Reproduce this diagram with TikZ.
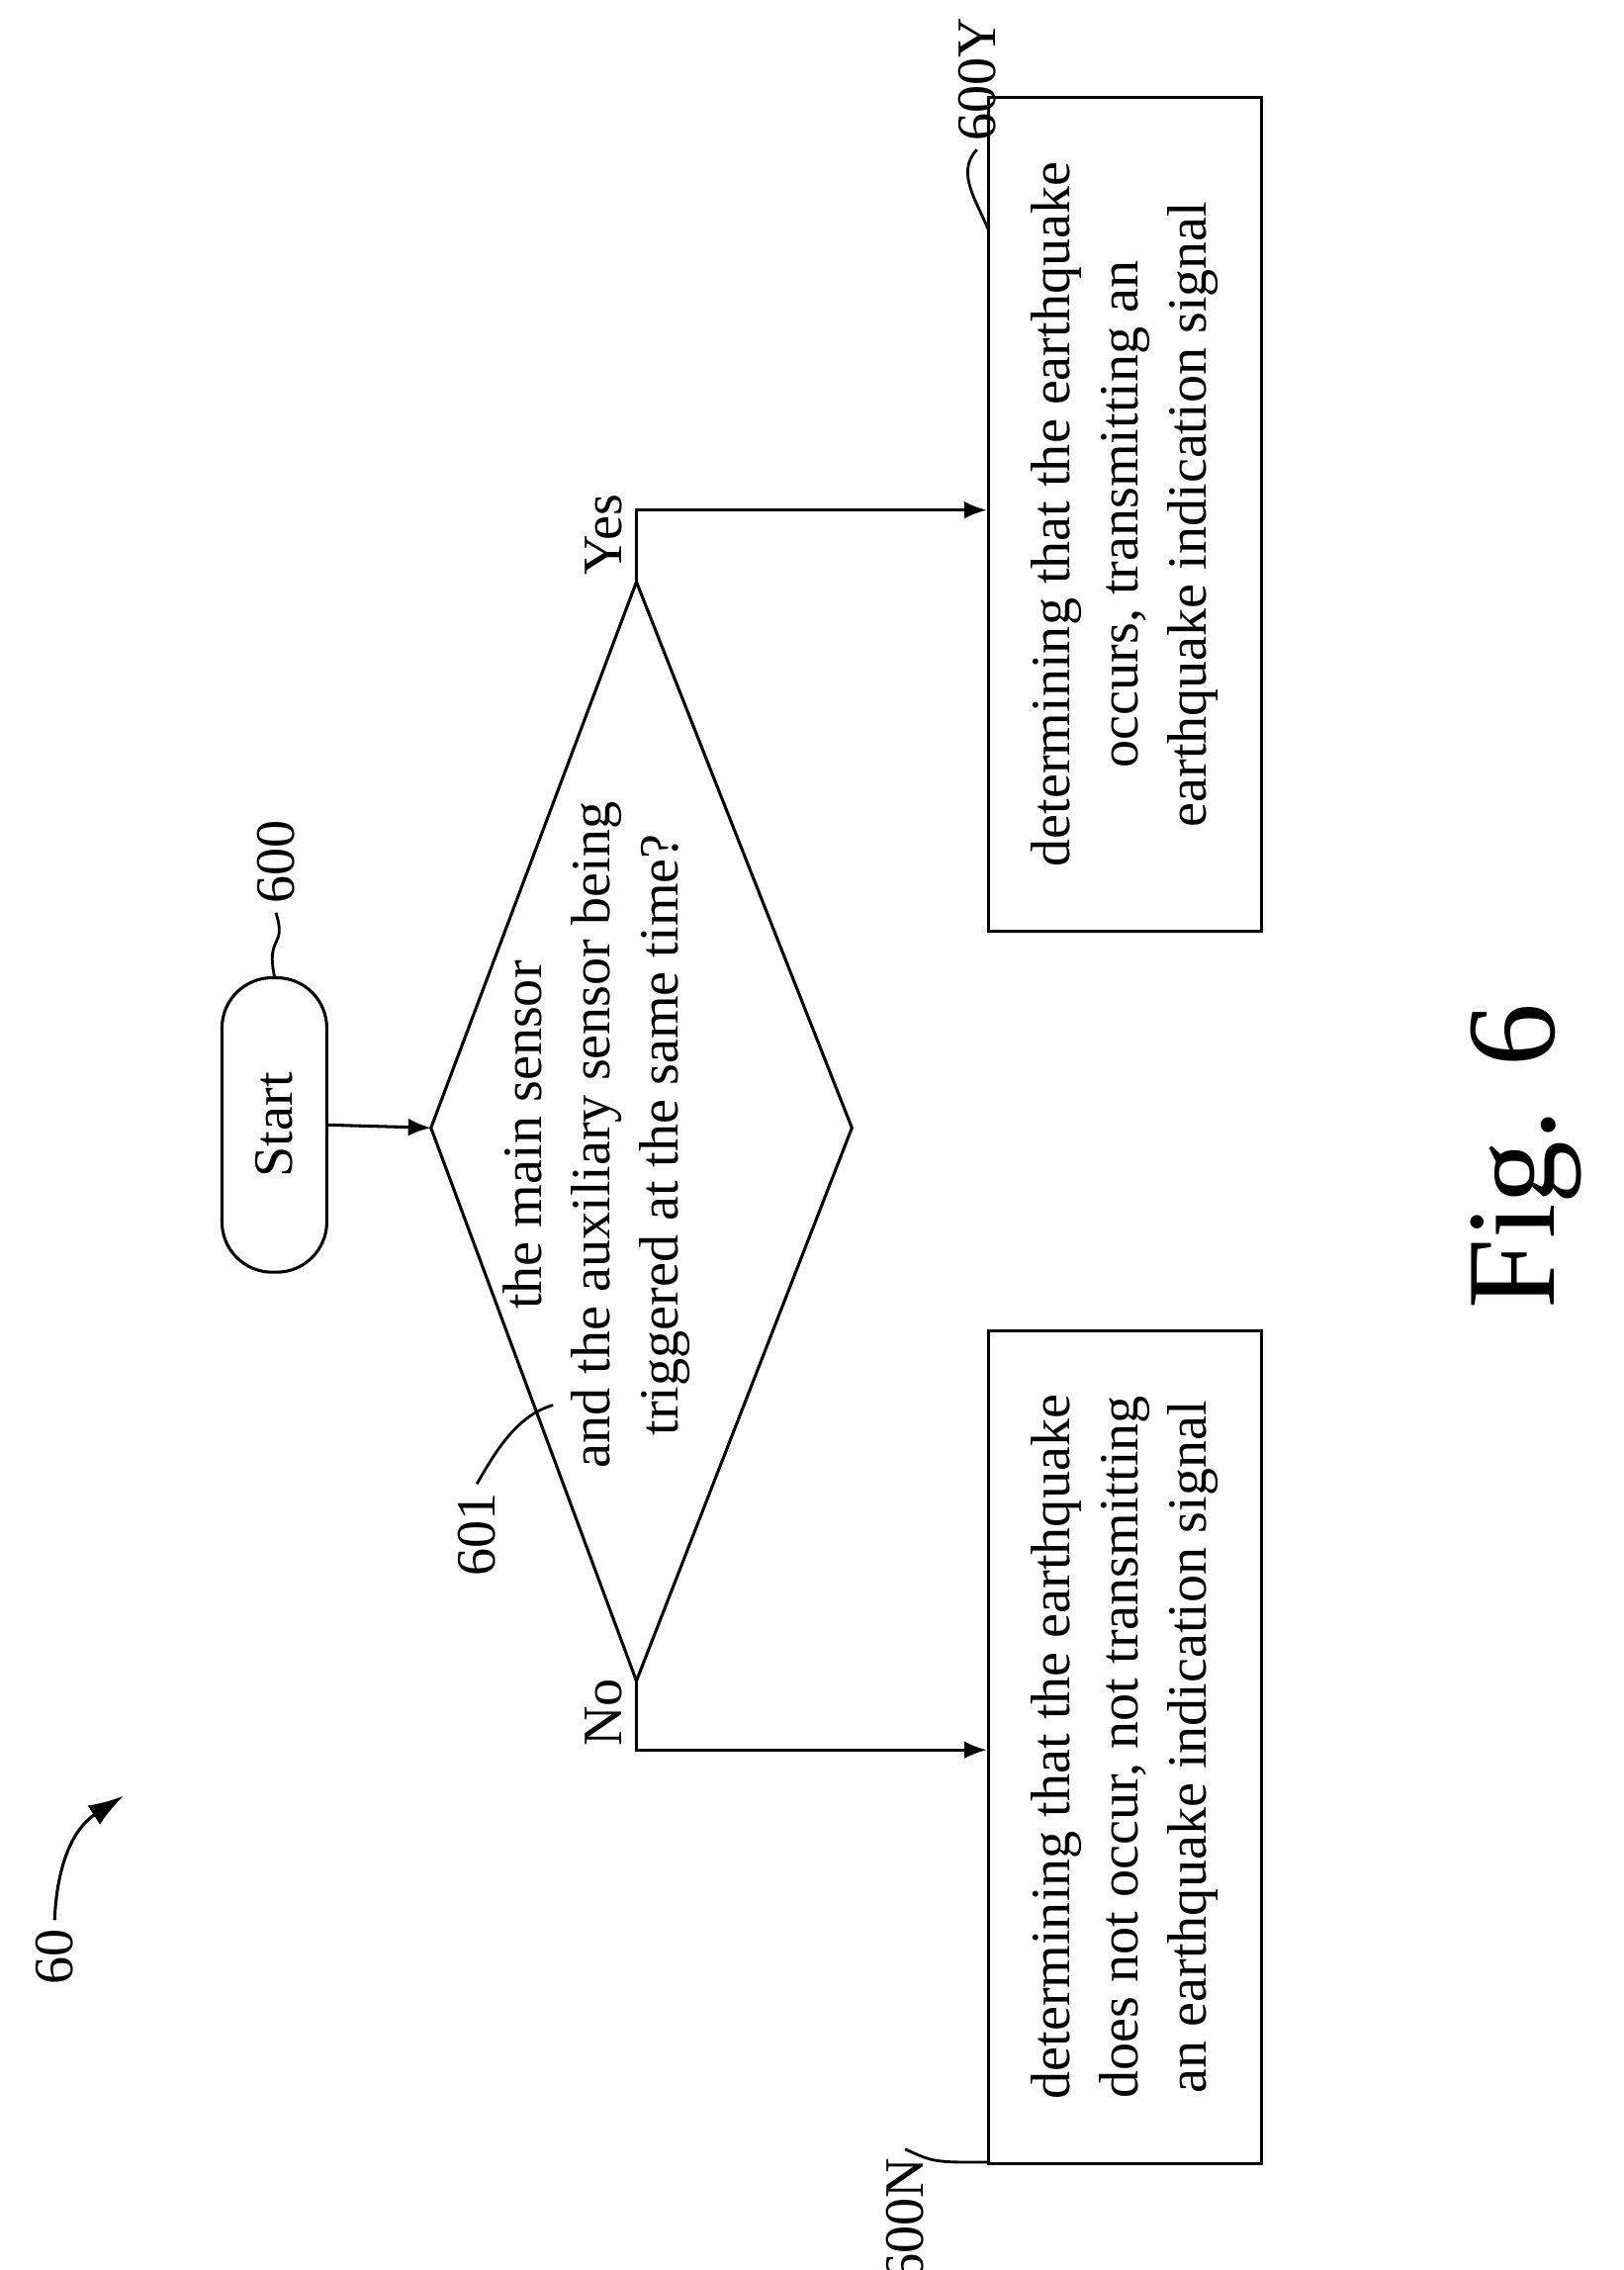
\documentclass[tikz,border=0pt]{standalone}
\usepackage{fontspec}
\setmainfont{Liberation Serif}
\usetikzlibrary{shapes.geometric, arrows.meta}

\tikzset{
  txt/.style={rotate=90, font=\fontsize{22}{27}\selectfont, align=center},
  box/.style={draw, line width=1.2pt, rotate=90, minimum width=11.6cm, minimum height=3.8cm, font=\fontsize{22}{27}\selectfont, align=center},
  lead/.style={line width=1.1pt},
  flow/.style={line width=1.2pt, -{Latex[length=9pt,width=7pt]}}
}

\begin{document}
\begin{tikzpicture}[x=0.02cm, y=-0.02cm]
  \useasboundingbox (0,0) rectangle (1130,1580);

  % start terminal
  \node[draw, line width=1.2pt, rounded corners=0.7cm, rotate=90,
        minimum width=4.1cm, minimum height=1.46cm, font=\fontsize{22}{27}\selectfont] (start) at (191,783) {Start};
  \node[txt] (l600) at (192,600) {600};
  \draw[lead] (start.east) .. controls (185,650) and (200,660) .. (l600.west);

  % decision
  \coordinate (dl) at (300,785);
  \coordinate (dt) at (443,405);
  \coordinate (db) at (443,1170);
  \coordinate (dr) at (593,785);
  \draw[line width=1.2pt] (dl) -- (dt) -- (dr) -- (db) -- cycle;
  \node[txt] (q) at (415,790) {the main sensor\\and the auxiliary sensor being\\triggered at the same time?};
  \draw[flow] (start.south) -- (dl);
  \node[txt] (l601) at (332,1068) {601};
  \draw[lead] (l601.east) .. controls (345,1010) and (360,985) .. (385,978);

  % outcomes
  \node[box] (yes) at (783,358) {determining that the earthquake\\occurs, transmitting an\\earthquake indication signal};
  \node[box] (no) at (783,1216) {determining that the earthquake\\does not occur, not transmitting\\an earthquake indication signal};
  \coordinate (ty) at (443,355);
  \coordinate (tn) at (443,1218);
  \draw[flow] (dt) -- (ty) -- (yes.north |- ty);
  \draw[flow] (db) -- (tn) -- (no.north |- tn);
  \node[txt] (ly) at (420,372) {Yes};
  \node[txt] (ln) at (420,1192) {No};

  \node[txt] (l600y) at (680,55) {600Y};
  \draw[lead] (l600y.west) .. controls (665,120) and (680,140) .. (688,160);
  \node[txt] (l600n) at (630,1545) {600N};
  \draw[lead] (l600n.east) .. controls (650,1505) .. (688,1505);

  % figure number
  \node[txt] (l60) at (38,1362) {60};
  \draw[line width=1.2pt, -{Latex[length=14pt,width=9pt]}] (l60.east) .. controls (40,1290) and (55,1270) .. (86,1250);
  \node[rotate=90, font=\fontsize{50}{56}\selectfont] (fig) at (1062,805) {Fig. 6};
\end{tikzpicture}
\end{document}
